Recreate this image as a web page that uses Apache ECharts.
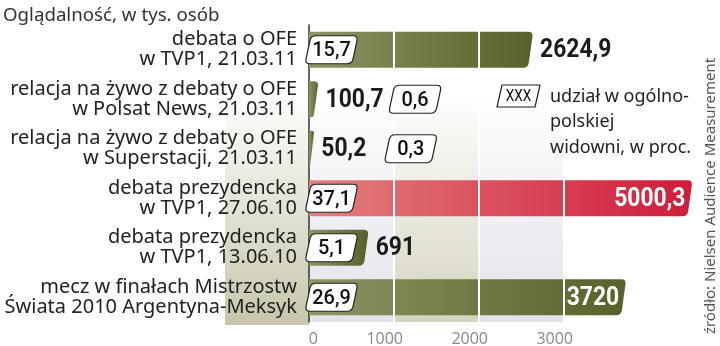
<!DOCTYPE html>
<html><head><meta charset="utf-8">
<script src="https://cdn.jsdelivr.net/npm/echarts@6/dist/echarts.min.js"></script>
<style>html,body{margin:0;padding:0;background:#fff}#c{width:720px;height:346px}</style>
</head><body><div id="c"></div>
<script>
const titleText = 'Oglądalność, w tys. osób';
const categories = [
  'debata o OFE\nw TVP1, 21.03.11',
  'relacja na żywo z debaty o OFE\nw Polsat News, 21.03.11',
  'relacja na żywo z debaty o OFE\nw Superstacji, 21.03.11',
  'debata prezydencka\nw TVP1, 27.06.10',
  'debata prezydencka\nw TVP1, 13.06.10',
  'mecz w finałach Mistrzostw\nŚwiata 2010 Argentyna-Meksyk'
];
const viewers = [2624.9, 100.7, 50.2, 5000.3, 691, 3720];
const shares = [15.7, 0.6, 0.3, 37.1, 5.1, 26.9];
const highlighted = [0, 0, 0, 1, 0, 0];
const axisTicks = [0, 1000, 2000, 3000];
const legendSample = 'XXX';
const legendLines = ['udział w ogólno-', 'polskiej', 'widowni, w proc.'];
const sourceText = 'źródło: Nielsen Audience Measurement';

const NARROW = 'Roboto,sans-serif';
const SANS = '"Noto Sans","Open Sans",sans-serif';
const fmt = v => String(v).replace('.', ',');

function roundedPath(pts, radii) {
  const n = pts.length;
  let d = '';
  for (let i = 0; i < n; i++) {
    const p = pts[i], prev = pts[(i - 1 + n) % n], next = pts[(i + 1) % n];
    const v1 = [prev[0] - p[0], prev[1] - p[1]], v2 = [next[0] - p[0], next[1] - p[1]];
    const l1 = Math.hypot(v1[0], v1[1]) || 1, l2 = Math.hypot(v2[0], v2[1]) || 1;
    const rr = Math.min(radii[i], l1 / 2, l2 / 2);
    const a = [p[0] + v1[0] / l1 * rr, p[1] + v1[1] / l1 * rr];
    const b = [p[0] + v2[0] / l2 * rr, p[1] + v2[1] / l2 * rr];
    d += (i === 0 ? 'M' : 'L') + a[0] + ' ' + a[1] + ' Q' + p[0] + ' ' + p[1] + ' ' + b[0] + ' ' + b[1] + ' ';
  }
  return d + 'Z';
}

function boxPath(x, y, w, h, sk, r) {
  return roundedPath([[x + sk, y], [x + w, y], [x + w - sk, y + h], [x, y + h]], [r, r, r, r]);
}

const olive = () => new echarts.graphic.LinearGradient(0, 0, 1, 0, [
  { offset: 0, color: '#8e9465' }, { offset: 1, color: '#56622a' }]);
const red = () => new echarts.graphic.LinearGradient(0, 0, 1, 0, [
  { offset: 0, color: '#e3807f' }, { offset: 1, color: '#d01c3a' }]);
const fade = c => new echarts.graphic.LinearGradient(0, 0, 0, 1, [
  { offset: 0, color: '#ffffff' }, { offset: 0.22, color: '#ffffff' }, { offset: 1, color: c }]);

function geom(params, api) {
  const v = api.value(0), idx = api.value(1);
  const cs = params.coordSys;
  const o = api.coord([0, idx]);
  const e = api.coord([v, idx]);
  const x0 = o[0], cy = o[1];
  const xe = Math.min(e[0], cs.x + cs.width);
  const h = api.size([0, 1])[1] * 0.73;
  return { v, x0, cy, xe, h };
}

function renderBar(params, api) {
  const g = geom(params, api);
  const top = g.cy - g.h / 2, bot = g.cy + g.h / 2;
  const tr = g.xe + 1, br = Math.max(g.x0 + 1, g.xe - 4);
  return {
    type: 'path',
    shape: { pathData: roundedPath([[g.x0, top], [tr, top], [br, bot], [g.x0, bot]], [0, 5, 5, 0]) },
    style: { fill: api.value(3) ? red() : olive() }
  };
}

function renderLabels(params, api) {
  const g = geom(params, api);
  const s = api.value(2);
  const inside = g.v > 3000;
  const lx = inside ? g.xe - 6 : g.xe + 8;
  const bw = 53, bh = 28;
  const bx = (g.xe - g.x0) > 40 ? g.x0 - 4 : lx + 63;
  const by = g.cy - bh / 2;
  return {
    type: 'group',
    children: [
      {
        type: 'text', x: lx, y: g.cy + 1, scaleX: 0.88,
        style: {
          text: fmt(g.v), fill: inside ? '#ffffff' : '#1b1b1b',
          font: 'bold 26px ' + NARROW,
          align: inside ? 'right' : 'left', verticalAlign: 'middle'
        }
      },
      {
        type: 'path',
        shape: { pathData: boxPath(bx, by, bw, bh, 6, 5) },
        style: { fill: '#ffffff', stroke: '#222222', lineWidth: 1.2 }
      },
      {
        type: 'text', x: bx + bw / 2, y: g.cy + 1, scaleX: 0.95,
        style: { text: fmt(s), fill: '#111111', font: '500 21px ' + NARROW, align: 'center', verticalAlign: 'middle' }
      }
    ]
  };
}

const seriesData = viewers.map((v, i) => [v, i, shares[i], highlighted[i]]);

const chart = echarts.init(document.getElementById('c'), null, { renderer: 'canvas' });
chart.setOption({
  animation: false,
  backgroundColor: '#ffffff',
  title: {
    text: titleText, left: -2, top: 1,
    textStyle: { fontSize: 18.7, fontWeight: 'normal', color: '#333', fontFamily: SANS }
  },
  grid: { left: 309, right: 28.5, top: 25, bottom: 24, containLabel: false, outerBoundsMode: 'none' },
  xAxis: {
    type: 'value', min: 0, max: 4500, interval: 1000,
    axisLine: { show: false }, axisTick: { show: false },
    splitLine: { show: false },
    splitArea: { show: true, areaStyle: { color: [fade('#e2e3e9'), fade('#d5d4bf'), fade('#e2e3e9'), 'rgba(0,0,0,0)', 'rgba(0,0,0,0)'] } },
    axisLabel: {
      margin: 9, color: '#888', fontSize: 16, fontFamily: '"Open Sans",sans-serif',
      align: 'right', padding: [0, -9, 0, 0],
      formatter: v => axisTicks.indexOf(v) >= 0 ? String(v) : ''
    }
  },
  yAxis: {
    type: 'category', inverse: true, data: categories,
    axisLine: { show: true, lineStyle: { color: '#333', width: 1.5 } },
    axisTick: { show: false },
    axisLabel: { margin: 12, color: '#222', fontSize: 20, lineHeight: 20, fontFamily: SANS, align: 'right' }
  },
  graphic: [
    {
      type: 'rect', z: -10, shape: { x: 225, y: 25, width: 84, height: 300 },
      style: { fill: fade('#c7c6ac') }
    },
    {
      type: 'polygon', z: 10, shape: { points: [[502, 85], [540, 85], [535, 107], [497, 107]] },
      style: { fill: '#fff', stroke: '#222', lineWidth: 1.2, lineJoin: 'round' }
    },
    {
      type: 'text', z: 11, x: 518.5, y: 96.5, scaleX: 0.85,
      style: { text: legendSample, font: '16px ' + NARROW, fill: '#111', align: 'center', verticalAlign: 'middle' }
    },
    {
      type: 'text', z: 11, x: 550, y: 84,
      style: { text: legendLines.join('\n'), font: '18px ' + SANS, lineHeight: 25.5, fill: '#222', align: 'left', verticalAlign: 'top' }
    },
    {
      type: 'text', z: 11, x: 711, y: 196, rotation: Math.PI / 2,
      style: { text: sourceText, font: '15px ' + SANS, fill: '#555', align: 'center', verticalAlign: 'middle' }
    }
  ],
  series: [
    {
      type: 'custom', name: 'bars',
      renderItem: renderBar,
      encode: { x: 0, y: 1 },
      data: seriesData,
      z: 2,
      markLine: {
        silent: true, symbol: 'none', z: 3,
        label: { show: false },
        lineStyle: { color: '#ffffff', width: 2, type: 'solid' },
        data: axisTicks.filter(t => t > 0).map(t => ({ xAxis: t }))
      }
    },
    {
      type: 'custom', name: 'labels',
      renderItem: renderLabels,
      encode: { x: 0, y: 1 },
      data: seriesData,
      z: 6
    }
  ]
});
</script></body></html>
